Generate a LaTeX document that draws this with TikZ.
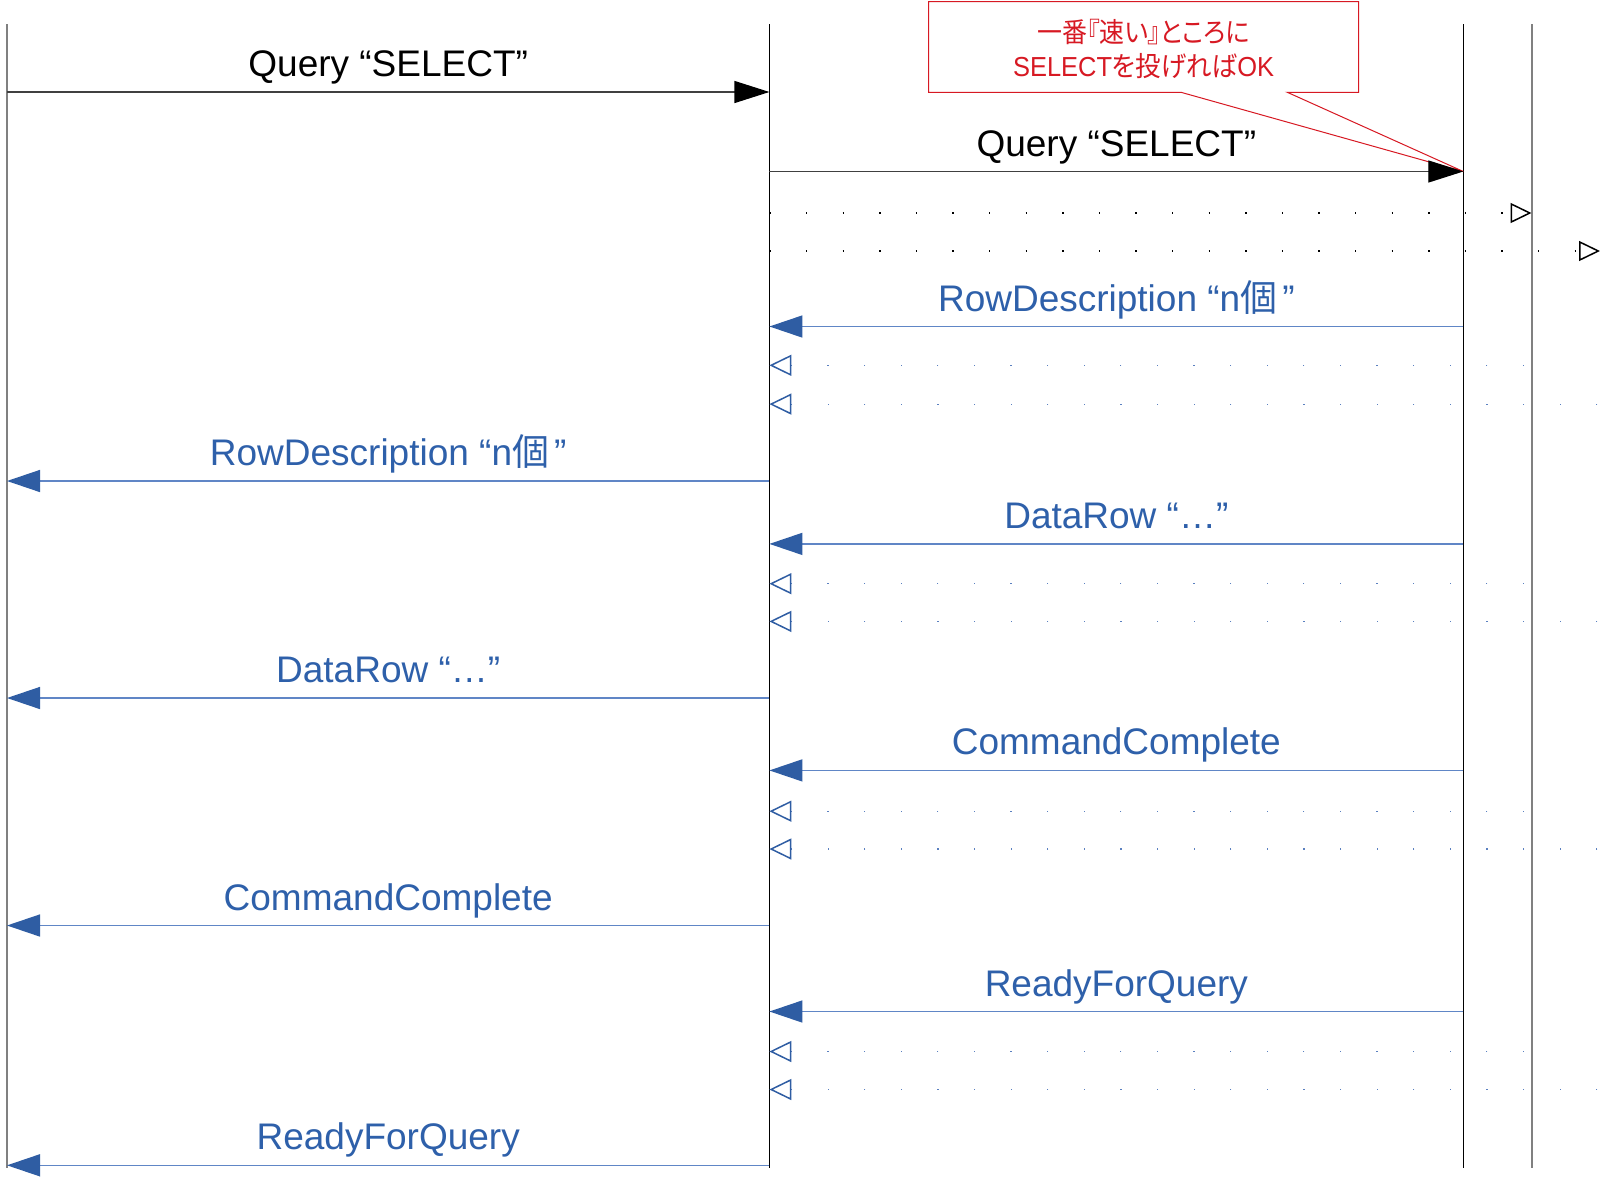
\documentclass[tikz,border=0pt]{standalone}
\usepackage{fontspec}
\setmainfont{Liberation Sans}
\newfontfamily\cjk{Noto Sans CJK JP}
\newfontfamily\cjkp[RawFeature=+palt]{Noto Sans CJK JP}
\usepackage{graphicx}
\usetikzlibrary{arrows.meta}
\definecolor{msgblue}{RGB}{46,96,170}
\definecolor{lineblue}{RGB}{96,134,198}
\definecolor{headblue}{RGB}{47,93,163}
\definecolor{dotblue}{RGB}{90,128,192}
\definecolor{calred}{RGB}{215,25,35}
\definecolor{lifegray}{RGB}{128,128,128}
\newsavebox\fitbox
\newlength\fitlen
\newcommand\fitw[2]{\sbox\fitbox{#2}\setlength\fitlen{\wd\fitbox}\pgfmathsetmacro\fitf{#1/\fitlen}\scalebox{\fitf}[1]{\usebox\fitbox}}
\tikzset{
  lifeblack/.style={line width=1.5pt, draw=black},
  lifegrey/.style={line width=2pt, draw=lifegray},
  reqmsg/.style={line width=1.3pt, draw=black!75, -{Triangle[length=35pt,width=22pt,color=black]}},
  repmsg/.style={line width=1.4pt, draw=lineblue, -{Triangle[length=33pt,width=22pt,color=headblue]}},
  fwdblack/.style={line width=1.3pt, draw=black, dash pattern=on 1.3pt off 35.3pt,
     -{Triangle[open,length=21pt,width=20pt,line width=1.5pt,color=black]}},
  fwdblue/.style={line width=1.2pt, draw=dotblue, dash pattern=on 1.2pt off 35.4pt, dash phase=#1,
     -{Triangle[open,length=22pt,width=21pt,line width=1.5pt,color=headblue]}},
  lbl/.style={font=\fontsize{37}{44}\selectfont, anchor=base, yshift=15.5pt, inner sep=0pt, text=black},
  bluelbl/.style={lbl, text=msgblue},
  caltext/.style={font=\fontsize{27.5}{32}\selectfont, text=calred, anchor=base, inner sep=0pt},
  calshape/.style={draw=calred, line width=1pt, line join=miter}
}
\begin{document}
\begin{tikzpicture}[x=1pt,y=-1pt]
\useasboundingbox[fill=white] (0,0) rectangle (1600,1178);
% lifelines
\coordinate (L1t) at (7,24);      \coordinate (L1b) at (7,1168);
\coordinate (L2t) at (769.4,24);  \coordinate (L2b) at (769.4,1168);
\coordinate (L3t) at (1463.3,24); \coordinate (L3b) at (1463.3,1168);
\coordinate (L4t) at (1531.5,24); \coordinate (L4b) at (1531.5,1168);
\coordinate (L5t) at (1600,24);
\draw[lifegrey]  (L1t) -- (L1b);
\draw[lifeblack] (L2t) -- (L2b);
\draw[lifeblack] (L3t) -- (L3b);
\draw[lifegrey]  (L4t) -- (L4b);
% callout
\draw[calshape] (928.6,1.5) -- (1358.7,1.5) -- (1358.7,92.3) -- (1287.3,92.3)
   -- (1463.3,171.5) -- (1181,92.3) -- (928.6,92.3) -- cycle;
\node[caltext] (cal1) at (1143.6,42) {\fitw{213}{\cjkp 一番『速い』ところに}};
\node[caltext] (cal2) at (1143.6,76) {\fitw{261}{SELECT{\cjkp を投げれば}OK}};
% row levels
\coordinate (r1) at (0,92);
\coordinate (r2) at (0,171.5);
\coordinate (r2a) at (0,213);
\coordinate (r2b) at (0,251);
\coordinate (r3) at (0,326.5);
\coordinate (r3a) at (0,365.3);
\coordinate (r3b) at (0,404.1);
\coordinate (r4) at (0,481);
\coordinate (r5) at (0,543.9);
\coordinate (r5a) at (0,583.7);
\coordinate (r5b) at (0,621.4);
\coordinate (r6) at (0,698);
\coordinate (r7) at (0,770.4);
\coordinate (r7a) at (0,811.2);
\coordinate (r7b) at (0,849);
\coordinate (r8) at (0,925.5);
\coordinate (r9) at (0,1011.5);
\coordinate (r9a) at (0,1051.5);
\coordinate (r9b) at (0,1089.5);
\coordinate (r10) at (0,1165.3);
% query
\draw[reqmsg] (L1t |- r1) -- node[lbl] (q1) {Query “SELECT”} (L2t |- r1);
\draw[reqmsg] (L2t |- r2) -- node[lbl] (q2) {Query “SELECT”} (L3t |- r2);
\draw[fwdblack] (L2t |- r2a) -- (L4t |- r2a);
\draw[fwdblack] (L2t |- r2b) -- (L5t |- r2b);
% RowDescription
\draw[repmsg] (L3t |- r3) -- node[bluelbl] (rd1) {RowDescription “n{\cjk 個}\kern5pt”} (L2t |- r3);
\draw[fwdblue=29.05pt] (L4t |- r3a) -- (L2t |- r3a);
\draw[fwdblue=33.95pt] (L5t |- r3b) -- (L2t |- r3b);
\draw[repmsg] (L2t |- r4) -- node[bluelbl] (rd2) {RowDescription “n{\cjk 個}\kern5pt”} (L1t |- r4);
% DataRow
\draw[repmsg] (L3t |- r5) -- node[bluelbl] (dr1) {DataRow “…”} (L2t |- r5);
\draw[fwdblue=29.05pt] (L4t |- r5a) -- (L2t |- r5a);
\draw[fwdblue=33.95pt] (L5t |- r5b) -- (L2t |- r5b);
\draw[repmsg] (L2t |- r6) -- node[bluelbl] (dr2) {DataRow “…”} (L1t |- r6);
% CommandComplete
\draw[repmsg] (L3t |- r7) -- node[bluelbl] (cc1) {CommandComplete} (L2t |- r7);
\draw[fwdblue=29.05pt] (L4t |- r7a) -- (L2t |- r7a);
\draw[fwdblue=33.95pt] (L5t |- r7b) -- (L2t |- r7b);
\draw[repmsg] (L2t |- r8) -- node[bluelbl] (cc2) {CommandComplete} (L1t |- r8);
% ReadyForQuery
\draw[repmsg] (L3t |- r9) -- node[bluelbl] (rq1) {ReadyForQuery} (L2t |- r9);
\draw[fwdblue=29.05pt] (L4t |- r9a) -- (L2t |- r9a);
\draw[fwdblue=33.95pt] (L5t |- r9b) -- (L2t |- r9b);
\draw[repmsg] (L2t |- r10) -- node[bluelbl] (rq2) {ReadyForQuery} (L1t |- r10);
\end{tikzpicture}
\end{document}
